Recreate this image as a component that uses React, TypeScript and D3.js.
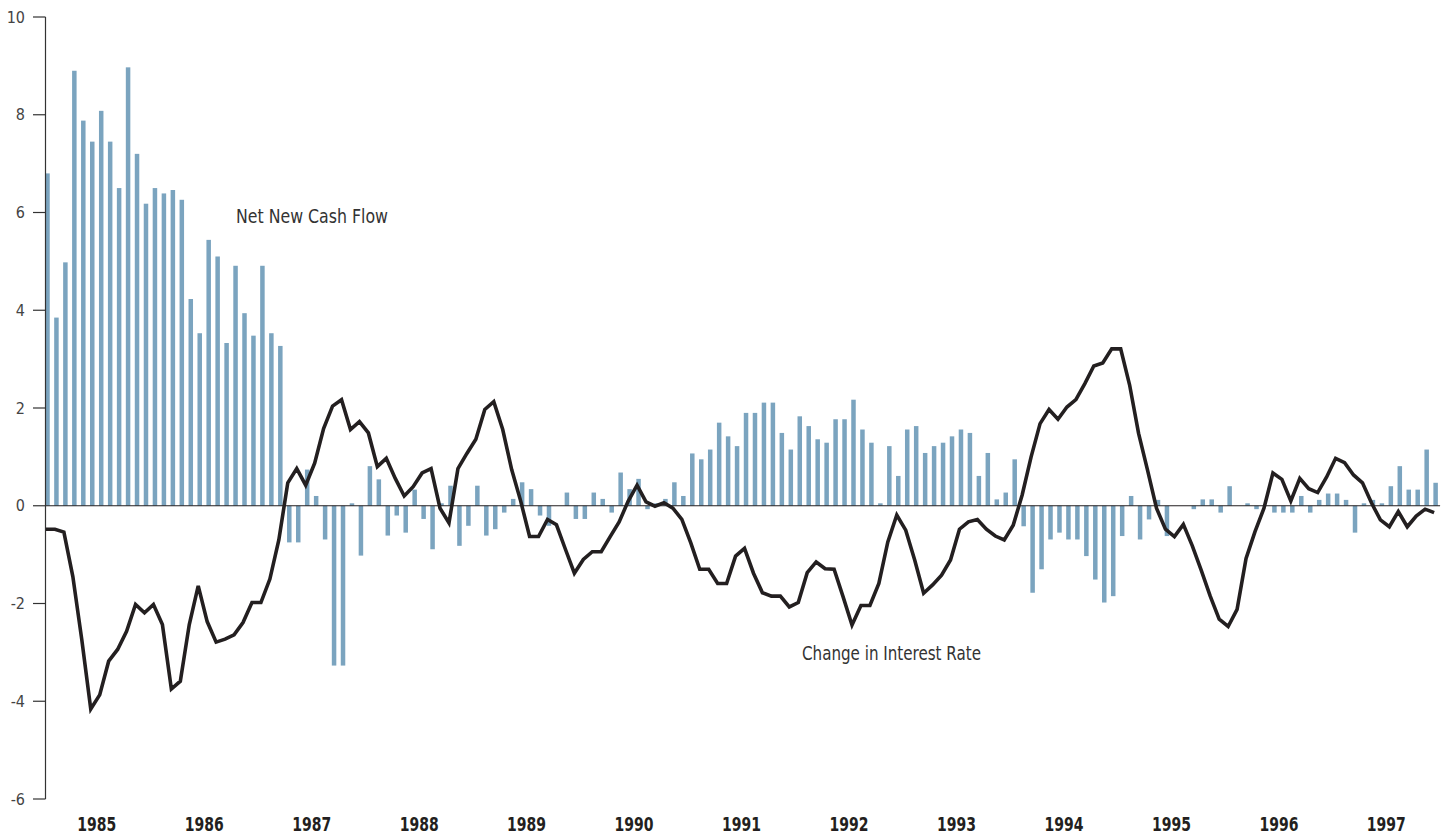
import React from "react";
import * as d3 from "d3";

// Monthly values, Jan 1985 – Dec 1997
const cashFlow: number[] = [
  6.80, 3.85, 4.98, 8.90, 7.88, 7.45, 8.08, 7.45, 6.50, 8.97, 7.20, 6.18,
  6.50, 6.39, 6.46, 6.26, 4.23, 3.53, 5.44, 5.10, 3.33, 4.91, 3.94, 3.48,
  4.91, 3.53, 3.27, -0.75, -0.75, 0.74, 0.20, -0.69, -3.27, -3.27, 0.05, -1.02,
  0.81, 0.54, -0.61, -0.20, -0.55, 0.33, -0.27, -0.89, 0.05, 0.41, -0.82, -0.41,
  0.41, -0.61, -0.48, -0.14, 0.14, 0.48, 0.34, -0.20, -0.41, 0, 0.27, -0.27,
  -0.27, 0.27, 0.14, -0.14, 0.68, 0.34, 0.55, -0.07, 0.05, 0.14, 0.48, 0.20,
  1.07, 0.95, 1.15, 1.70, 1.42, 1.22, 1.90, 1.90, 2.11, 2.11, 1.49, 1.15,
  1.83, 1.63, 1.36, 1.29, 1.77, 1.77, 2.17, 1.56, 1.29, 0.05, 1.22, 0.61,
  1.56, 1.63, 1.08, 1.22, 1.29, 1.42, 1.56, 1.49, 0.61, 1.08, 0.13, 0.27,
  0.95, -0.42, -1.78, -1.30, -0.69, -0.55, -0.69, -0.69, -1.03, -1.51, -1.98, -1.85,
  -0.62, 0.20, -0.69, -0.28, 0.12, -0.62, 0, 0, -0.07, 0.13, 0.13, -0.14,
  0.40, 0, 0.05, -0.07, 0, -0.14, -0.14, -0.14, 0.20, -0.14, 0.12, 0.25,
  0.25, 0.12, -0.55, 0.05, 0.12, 0.05, 0.40, 0.81, 0.33, 0.33, 1.15, 0.47,
];

const rateChange: number[] = [
  -0.48, -0.48, -0.54, -1.45, -2.74, -4.16, -3.87, -3.18, -2.94, -2.57, -2.02, -2.19,
  -2.02, -2.43, -3.75, -3.59, -2.43, -1.64, -2.37, -2.79, -2.73, -2.64, -2.39, -1.98,
  -1.98, -1.50, -0.70, 0.47, 0.76, 0.42, 0.87, 1.58, 2.04, 2.17, 1.56, 1.72,
  1.49, 0.80, 0.97, 0.56, 0.20, 0.39, 0.67, 0.76, -0.05, -0.35, 0.76, 1.07,
  1.36, 1.97, 2.13, 1.56, 0.74, 0.10, -0.63, -0.63, -0.28, -0.39, -0.89, -1.38,
  -1.10, -0.94, -0.94, -0.63, -0.33, 0.09, 0.42, 0.08, -0.01, 0.06, -0.05, -0.28,
  -0.76, -1.30, -1.30, -1.59, -1.59, -1.03, -0.87, -1.38, -1.78, -1.85, -1.85, -2.07,
  -1.98, -1.37, -1.15, -1.29, -1.30, -1.86, -2.44, -2.04, -2.04, -1.59, -0.74, -0.19,
  -0.50, -1.11, -1.79, -1.62, -1.42, -1.11, -0.48, -0.33, -0.28, -0.48, -0.62, -0.70,
  -0.40, 0.22, 1.00, 1.68, 1.97, 1.77, 2.02, 2.17, 2.50, 2.86, 2.92, 3.21,
  3.21, 2.47, 1.48, 0.73, -0.05, -0.48, -0.63, -0.38, -0.82, -1.32, -1.85, -2.32,
  -2.47, -2.12, -1.08, -0.53, -0.05, 0.67, 0.54, 0.10, 0.56, 0.35, 0.27, 0.59,
  0.97, 0.88, 0.63, 0.47, 0.06, -0.29, -0.43, -0.12, -0.43, -0.21, -0.07, -0.14,
];

const years: string[] = [
  "1985", "1986", "1987", "1988", "1989", "1990", "1991",
  "1992", "1993", "1994", "1995", "1996", "1997",
];

const yTicks: number[] = [-6, -4, -2, 0, 2, 4, 6, 8, 10];

const W = 1448;
const H = 835;

export default function App() {
  const x = d3.scaleLinear().domain([0, cashFlow.length]).range([43.0, 1440.1]);
  const y = d3.scaleLinear().domain([-6, 10]).range([799, 17]);
  const axisX = 45.5;
  const barW = 4.5;
  const lineOffset = -1.5;

  const linePath = d3
    .line<number>()
    .x((_, i) => x(i + 0.5) + lineOffset)
    .y((d) => y(d))(rateChange) as string;

  const narrow = "'Liberation Sans Narrow', 'DejaVu Sans Condensed', 'Roboto', sans-serif";

  return (
    <svg
      width={W}
      height={H}
      viewBox={`0 0 ${W} ${H}`}
      style={{ position: "absolute", left: 0, top: 0, background: "#fff" }}
    >
      {/* bars */}
      <g fill="#7ba4bf">
        {cashFlow.map((v, i) => {
          const cx = x(i + 0.5);
          const y0 = y(0);
          const y1 = y(v);
          return (
            <rect
              key={i}
              x={cx - barW / 2}
              y={Math.min(y0, y1)}
              width={barW}
              height={Math.abs(y1 - y0)}
            />
          );
        })}
      </g>

      {/* zero line */}
      <line x1={axisX} x2={x(cashFlow.length)} y1={y(0)} y2={y(0)} stroke="#231f20" strokeWidth={1.2} />

      {/* y axis */}
      <line x1={axisX} x2={axisX} y1={y(10)} y2={y(-6)} stroke="#333" strokeWidth={1.2} />
      {yTicks.map((t) => (
        <g key={t}>
          <line x1={33} x2={axisX} y1={y(t)} y2={y(t)} stroke="#333" strokeWidth={1.2} />
          <text
            x={25}
            y={y(t)}
            dy="0.35em"
            textAnchor="end"
            fontFamily={narrow}
            fontSize={16}
            fill="#444"
          >
            {t}
          </text>
        </g>
      ))}

      {/* interest rate line */}
      <path
        d={linePath}
        fill="none"
        stroke="#231f20"
        strokeWidth={3.6}
        strokeLinejoin="miter"
        strokeMiterlimit={4}
      />

      {/* year labels */}
      {years.map((yr, k) => (
        <text
          key={yr}
          x={x(k * 12 + 6)}
          y={830.5}
          textAnchor="middle"
          fontFamily={narrow}
          fontWeight="bold"
          fontSize={20}
          fill="#231f20"
          textLength={39}
          lengthAdjust="spacingAndGlyphs"
        >
          {yr}
        </text>
      ))}

      {/* annotations */}
      <text
        x={236}
        y={223}
        fontFamily={narrow}
        fontSize={19}
        fill="#333"
        textLength={152}
        lengthAdjust="spacingAndGlyphs"
      >
        Net New Cash Flow
      </text>
      <text
        x={802}
        y={660}
        fontFamily={narrow}
        fontSize={19}
        fill="#333"
        textLength={179}
        lengthAdjust="spacingAndGlyphs"
      >
        Change in Interest Rate
      </text>
    </svg>
  );
}
